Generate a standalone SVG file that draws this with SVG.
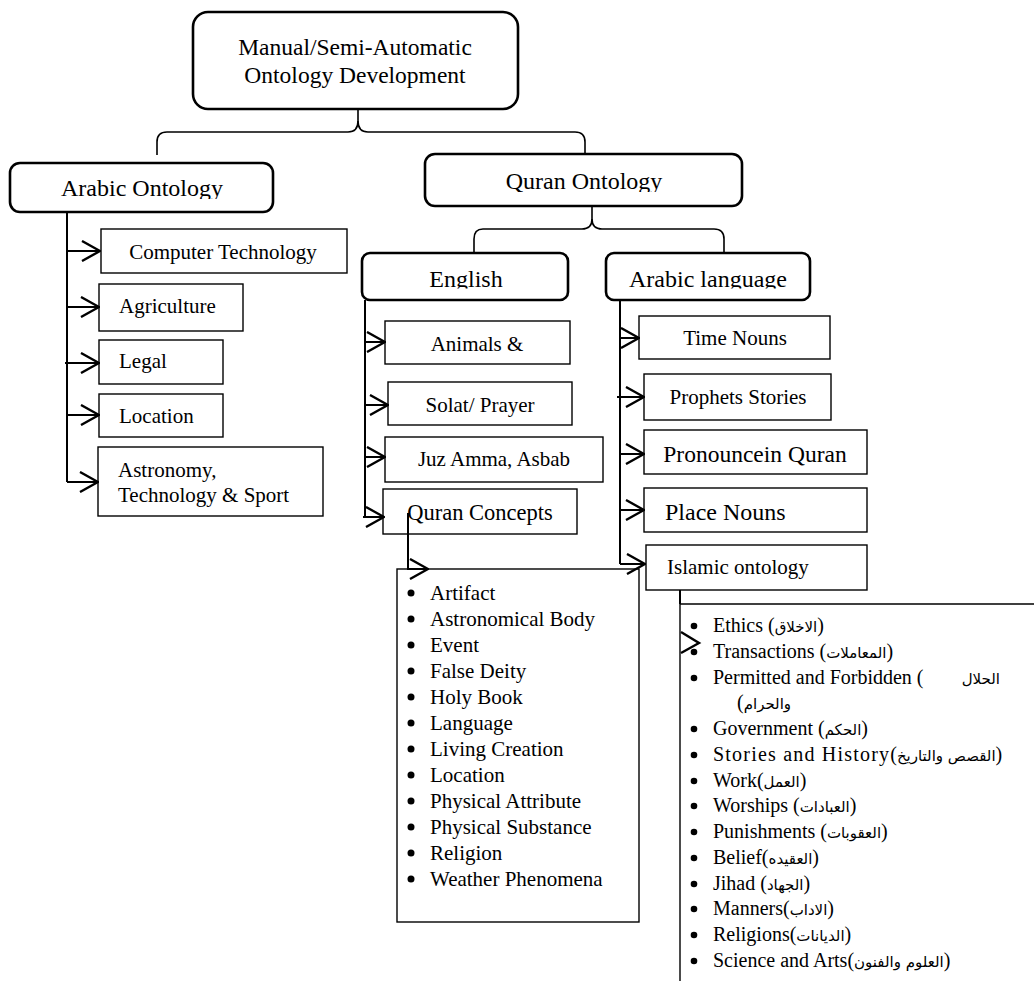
<svg xmlns="http://www.w3.org/2000/svg" width="1034" height="981" viewBox="0 0 1034 981">
<style>
text{font-family:"Liberation Serif","Times New Roman",serif;fill:#000}
.rb{fill:#fff;stroke:#000;stroke-width:2.6}
.bx{fill:#fff;stroke:#000;stroke-width:1.4}
.open{fill:none;stroke:#000;stroke-width:1.4}
.ln{fill:none;stroke:#000;stroke-width:2}
.br{fill:none;stroke:#000;stroke-width:1.6}
.chev{fill:none;stroke:#000;stroke-width:2.4}
.arr{fill:none;stroke:#000;stroke-width:2;marker-end:url(#chev)}
.f24{font-size:24px}
.f23{font-size:23.5px}
.f22{font-size:22.5px}
.f21{font-size:21px}
.f20{font-size:20px}
.ar{font-family:"DejaVu Sans",sans-serif;font-size:15px}
.mid{text-anchor:middle}
</style>
<defs>
<marker id="chev" viewBox="0 0 20 22" refX="19" refY="11" markerWidth="20" markerHeight="22" markerUnits="userSpaceOnUse" orient="auto">
<path d="M1,1 L19,11 L1,21" fill="none" stroke="#000" stroke-width="2.4"/>
</marker>
<clipPath id="cAO"><rect x="10" y="163" width="263" height="36"/></clipPath>
<clipPath id="cQO"><rect x="425" y="154" width="317" height="38"/></clipPath>
<clipPath id="cEN"><rect x="362" y="253" width="206" height="35.5"/></clipPath>
<clipPath id="cAL"><rect x="606" y="253" width="204" height="35.5"/></clipPath>
</defs>

<g id="n-root">
<rect class="rb" x="193" y="12" width="325" height="97" rx="15"/>
<text class="f23 mid" x="355" y="55">Manual/Semi-Automatic</text>
<text class="f23 mid" x="355" y="83">Ontology Development</text>
</g>

<g id="n-arabic-ontology">
<rect class="rb" x="10" y="163" width="263" height="49" rx="10"/>
<text class="f24 mid" x="142" y="196" clip-path="url(#cAO)">Arabic Ontology</text>
</g>

<g id="n-quran-ontology">
<rect class="rb" x="425" y="154" width="317" height="52" rx="10"/>
<text class="f24 mid" x="584" y="189" clip-path="url(#cQO)">Quran Ontology</text>
</g>

<g id="n-english">
<rect class="rb" x="362" y="253" width="206" height="47" rx="8"/>
<text class="f24 mid" x="466" y="286.5" clip-path="url(#cEN)">English</text>
</g>

<g id="n-arabic-language">
<rect class="rb" x="606" y="253" width="204" height="47" rx="8"/>
<text class="f24 mid" x="708" y="286.5" clip-path="url(#cAL)">Arabic language</text>
</g>

<g id="n-computer-technology">
<rect class="bx" x="101" y="229" width="246" height="44"/>
<text class="f21 mid" x="223" y="259">Computer Technology</text>
</g>
<g id="n-agriculture">
<rect class="bx" x="99" y="284" width="144" height="47"/>
<text class="f21" x="119" y="313">Agriculture</text>
</g>
<g id="n-legal">
<rect class="bx" x="99" y="340" width="124" height="44"/>
<text class="f21" x="119" y="368">Legal</text>
</g>
<g id="n-location">
<rect class="bx" x="99" y="394" width="124" height="43"/>
<text class="f21" x="119" y="423">Location</text>
</g>
<g id="n-astronomy">
<rect class="bx" x="98" y="447" width="225" height="69"/>
<text class="f21" x="118" y="477">Astronomy,</text>
<text class="f21" x="118" y="502">Technology &amp; Sport</text>
</g>

<g id="n-animals">
<rect class="bx" x="385" y="321" width="185" height="43"/>
<text class="f21 mid" x="477" y="351">Animals &amp;</text>
</g>
<g id="n-solat">
<rect class="bx" x="388" y="382" width="184" height="43"/>
<text class="f21 mid" x="480" y="412">Solat/ Prayer</text>
</g>
<g id="n-juz-amma">
<rect class="bx" x="385" y="437" width="218" height="45"/>
<text class="f21 mid" x="494" y="466">Juz Amma, Asbab</text>
</g>
<g id="n-quran-concepts">
<rect class="bx" x="383" y="489" width="194" height="45"/>
<text class="f22 mid" x="480" y="520">Quran Concepts</text>
</g>

<g id="n-time-nouns">
<rect class="bx" x="639" y="316" width="191" height="43"/>
<text class="f21 mid" x="735" y="345">Time Nouns</text>
</g>
<g id="n-prophets-stories">
<rect class="bx" x="644" y="374" width="187" height="46"/>
<text class="f21 mid" x="738" y="404">Prophets Stories</text>
</g>
<g id="n-pronounce">
<rect class="bx" x="644" y="430" width="223" height="44"/>
<text class="f23 mid" x="755" y="462">Pronouncein Quran</text>
</g>
<g id="n-place-nouns">
<rect class="bx" x="644" y="488" width="223" height="44"/>
<text class="f24" x="665" y="520">Place Nouns</text>
</g>
<g id="n-islamic-ontology">
<rect class="bx" x="646" y="545" width="221" height="45"/>
<text class="f21" x="667" y="574">Islamic ontology</text>
</g>

<g id="n-quran-concepts-list">
<rect class="bx" x="397" y="569" width="242" height="353"/>
<g fill="#000">
<circle cx="411" cy="593" r="3.5"/><circle cx="411" cy="619" r="3.5"/><circle cx="411" cy="645" r="3.5"/>
<circle cx="411" cy="671" r="3.5"/><circle cx="411" cy="697" r="3.5"/><circle cx="411" cy="723" r="3.5"/>
<circle cx="411" cy="749" r="3.5"/><circle cx="411" cy="775" r="3.5"/><circle cx="411" cy="801" r="3.5"/>
<circle cx="411" cy="827" r="3.5"/><circle cx="411" cy="853" r="3.5"/><circle cx="411" cy="879" r="3.5"/>
</g>
<text class="f21" x="430" y="600">Artifact</text>
<text class="f21" x="430" y="626">Astronomical Body</text>
<text class="f21" x="430" y="652">Event</text>
<text class="f21" x="430" y="678">False Deity</text>
<text class="f21" x="430" y="704">Holy Book</text>
<text class="f21" x="430" y="730">Language</text>
<text class="f21" x="430" y="756">Living Creation</text>
<text class="f21" x="430" y="782">Location</text>
<text class="f21" x="430" y="808">Physical Attribute</text>
<text class="f21" x="430" y="834">Physical Substance</text>
<text class="f21" x="430" y="860">Religion</text>
<text class="f21" x="430" y="886">Weather Phenomena</text>
</g>

<g id="n-islamic-ontology-list">
<path class="open" d="M1040,604 H680 V990"/>
<g fill="#000">
<circle cx="694" cy="626" r="3.3"/><circle cx="694" cy="652" r="3.3"/><circle cx="694" cy="678" r="3.3"/>
<circle cx="694" cy="729" r="3.3"/><circle cx="694" cy="755" r="3.3"/><circle cx="694" cy="781" r="3.3"/>
<circle cx="694" cy="806" r="3.3"/><circle cx="694" cy="832" r="3.3"/><circle cx="694" cy="858" r="3.3"/>
<circle cx="694" cy="884" r="3.3"/><circle cx="694" cy="909" r="3.3"/><circle cx="694" cy="935" r="3.3"/>
<circle cx="694" cy="961" r="3.3"/>
</g>
<text class="f20" x="713" y="632">Ethics (<tspan class="ar">الاخلاق</tspan>)</text>
<text class="f20" x="713" y="658">Transactions (<tspan class="ar">المعاملات</tspan>)</text>
<text class="f20" x="713" y="684">Permitted and Forbidden (</text>
<text class="ar" x="1000" y="684" text-anchor="end">الحلال</text>
<text class="f20" x="737" y="709">(<tspan class="ar">والحرام</tspan></text>
<text class="f20" x="713" y="735">Government (<tspan class="ar">الحكم</tspan>)</text>
<text class="f20" x="713" y="761"><tspan letter-spacing="1.2">Stories and History</tspan>(<tspan class="ar">القصص والتاريخ</tspan>)</text>
<text class="f20" x="713" y="787">Work(<tspan class="ar">العمل</tspan>)</text>
<text class="f20" x="713" y="812">Worships (<tspan class="ar">العبادات</tspan>)</text>
<text class="f20" x="713" y="838">Punishments (<tspan class="ar">العقوبات</tspan>)</text>
<text class="f20" x="713" y="864">Belief(<tspan class="ar">العقيده</tspan>)</text>
<text class="f20" x="713" y="890">Jihad (<tspan class="ar">الجهاد</tspan>)</text>
<text class="f20" x="713" y="915">Manners(<tspan class="ar">الاداب</tspan>)</text>
<text class="f20" x="713" y="941">Religions(<tspan class="ar">الديانات</tspan>)</text>
<text class="f20" x="713" y="967">Science and Arts(<tspan class="ar">العلوم والفنون</tspan>)</text>
</g>

<g id="connectors">
<path class="br" d="M358,109 L358,121 Q358,132 348,132 L167,132 Q157,132 157,142 L157,155"/>
<path class="br" d="M358,121 Q358,132 368,132 L575,132 Q585,132 585,142 L585,154"/>
<path class="br" d="M592,206 L592,219 Q592,229 582,229 L483,229 Q474,229 474,239 L474,253"/>
<path class="br" d="M592,219 Q592,229 602,229 L714,229 Q724,229 724,239 L724,253"/>
<path class="ln" d="M67,212 V482"/>
<path class="arr" d="M67,251 H100"/>
<path class="arr" d="M67,307 H99"/>
<path class="arr" d="M65,363 H99"/>
<path class="arr" d="M67,415 H99"/>
<path class="arr" d="M67,482 H98"/>
<path class="ln" d="M365,300 V517"/>
<path class="arr" d="M365,342 H385"/>
<path class="arr" d="M366,405 H388"/>
<path class="arr" d="M365,457 H385"/>
<path class="arr" d="M363,517 H384"/>
<path class="ln" d="M620,300 V564"/>
<path class="arr" d="M620,338 H639"/>
<path class="arr" d="M617,397 H644"/>
<path class="arr" d="M620,454 H644"/>
<path class="arr" d="M620,510 H644"/>
<path class="arr" d="M620,564 H645"/>
<path class="arr" d="M408,513 V569 H428"/>
<path class="ln" d="M680,590 V604"/>
<path class="chev" d="M681,632 L699,643 L681,653"/>
</g>
</svg>
